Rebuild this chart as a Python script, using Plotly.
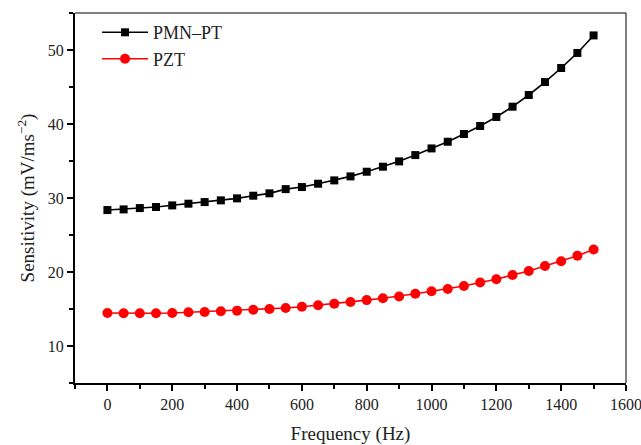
import plotly.graph_objects as go

freq = list(range(0, 1501, 50))
pmn_pt = [28.37, 28.46, 28.64, 28.78, 29.0, 29.23, 29.45, 29.68, 29.95, 30.31, 30.63,
          31.2, 31.48, 31.93, 32.38, 32.92, 33.55, 34.23, 34.95, 35.8, 36.7,
          37.6, 38.65, 39.73, 40.95, 42.34, 43.92, 45.67, 47.57, 49.6, 51.97]
pzt = [14.45, 14.42, 14.42, 14.43, 14.46, 14.55, 14.6, 14.69, 14.78, 14.9, 15.0,
       15.14, 15.3, 15.5, 15.7, 15.95, 16.2, 16.45, 16.7, 17.05, 17.4,
       17.7, 18.1, 18.57, 19.02, 19.6, 20.14, 20.8, 21.45, 22.2, 23.05]
series_names = ["PMN\u2013PT", "PZT"]

FONT = "Liberation Serif"

fig = go.Figure()
fig.add_trace(go.Scatter(x=freq, y=pmn_pt, name=series_names[0], mode="lines+markers",
                         line=dict(color="black", width=1.6),
                         marker=dict(symbol="square", size=8, color="black")))
fig.add_trace(go.Scatter(x=freq, y=pzt, name=series_names[1], mode="lines+markers",
                         line=dict(color="#ff0000", width=1.6),
                         marker=dict(symbol="circle", size=10, color="#ff0000")))

axis_common = dict(showgrid=False, zeroline=False, showline=True, linecolor="black",
                   linewidth=2, ticks="outside", tickwidth=1.5, ticklen=6,
                   tickcolor="black", automargin=False, ticklabeloverflow="allow",
                   tickfont=dict(family=FONT, size=16, color="#222"))

fig.update_xaxes(range=[-100, 1600], tick0=0, dtick=200,
                 minor=dict(dtick=100, ticks="outside", ticklen=4, tickwidth=1.5, tickcolor="black"),
                 title=dict(text="Frequency (Hz)", font=dict(family=FONT, size=19, color="#222"), standoff=16),
                 **axis_common)
fig.update_yaxes(range=[5, 55], tick0=0, dtick=10,
                 minor=dict(dtick=5, ticks="outside", ticklen=4, tickwidth=1.5, tickcolor="black"),
                 title=dict(text="Sensitivity (mV/ms<sup>\u22122</sup>)", font=dict(family=FONT, size=19, color="#222"), standoff=8),
                 **axis_common)

fig.add_shape(type="line", xref="paper", yref="paper", x0=0, x1=1, y0=1, y1=1,
              line=dict(color="black", width=1))
fig.add_shape(type="line", xref="paper", yref="paper", x0=1, x1=1, y0=0, y1=1,
              line=dict(color="black", width=1))

fig.update_layout(
    width=641, height=445,
    margin=dict(l=75, r=15, t=13, b=62, autoexpand=False),
    paper_bgcolor="white", plot_bgcolor="white",
    showlegend=True,
    legend=dict(x=0.04, y=0.997, xanchor="left", yanchor="top",
                bgcolor="rgba(0,0,0,0)", font=dict(family=FONT, size=18, color="#222"),
                itemwidth=46, tracegroupgap=0),
    font=dict(family=FONT),
)

fig.write_html("out.html", config={"displayModeBar": False},
               post_script="document.body.style.margin='0';document.body.style.overflow='hidden';")
